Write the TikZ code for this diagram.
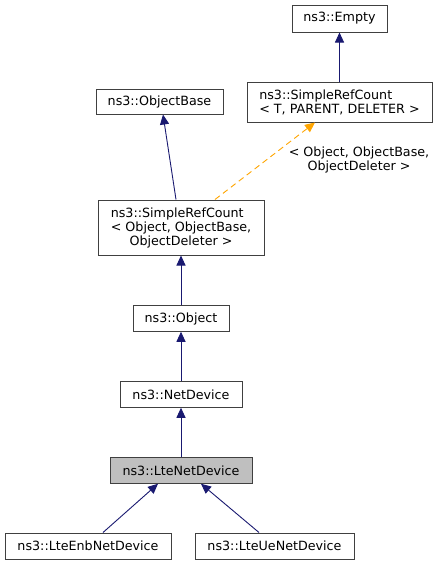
\documentclass[tikz,border=0pt]{standalone}
\usepackage{fontspec}
\setmainfont{DejaVu Sans}
\usetikzlibrary{arrows.meta}
\definecolor{edgeblue}{HTML}{191970}
\definecolor{boxline}{HTML}{404040}
\definecolor{tmplorange}{HTML}{FFA500}
\begin{document}
\begin{tikzpicture}[x=1pt,y=-1pt,
  cls/.style={draw=boxline,line width=1pt,fill=white,inner sep=0pt,align=center,
    font=\fontsize{12.7}{14}\selectfont},
  inh/.style={draw=edgeblue,line width=0.9pt,-{Triangle[length=10pt,width=9pt,fill=edgeblue]}},
  tmpl/.style={draw=tmplorange,line width=0.9pt,dashed,dash pattern=on 6pt off 4pt,-{Triangle[length=10pt,width=9pt,fill=tmplorange]}}]
\useasboundingbox (0,0) rectangle (438,565);
\node[cls,minimum width=95pt,minimum height=27pt] (empty) at (339.5,18.5) {ns3::Empty};
\node[cls,minimum width=185pt,minimum height=40pt] (srt) at (339.5,102) {\rlap{ns3::SimpleRefCount}\phantom{< T, PARENT, DELETER >}\\< T, PARENT, DELETER >};
\node[cls,minimum width=127pt,minimum height=25pt] (ob) at (159.5,101.5) {ns3::ObjectBase};
\node[cls,minimum width=166pt,minimum height=55pt] (sro) at (181,227.5) {\rlap{ns3::SimpleRefCount}\phantom{< Object, ObjectBase,}\\< Object, ObjectBase,\\ObjectDeleter >};
\node[cls,minimum width=96pt,minimum height=25.5pt] (obj) at (181,318.5) {ns3::Object};
\node[cls,minimum width=122pt,minimum height=25.5pt] (nd) at (181,394.5) {ns3::NetDevice};
\node[cls,fill=black!25,minimum width=142pt,minimum height=25.5pt] (lte) at (181,470.5) {ns3::LteNetDevice};
\node[cls,minimum width=166pt,minimum height=26pt] (enb) at (88,546) {ns3::LteEnbNetDevice};
\node[cls,minimum width=159pt,minimum height=26pt] (ue) at (274.5,546) {ns3::LteUeNetDevice};
\node[align=center,inner sep=0pt,font=\fontsize{12.7}{14}\selectfont] (lbl) at (359,160) {< Object, ObjectBase,\\ObjectDeleter >};
\draw[inh] (srt.north) -- (empty.south);
\draw[inh] ([xshift=-5pt]sro.north) -- ([xshift=3.5pt]ob.south);
\draw[tmpl] ([xshift=34pt]sro.north) -- ([xshift=-24.5pt]srt.south);
\draw[inh] (obj.north) -- (sro.south);
\draw[inh] (nd.north) -- (obj.south);
\draw[inh] (lte.north) -- (nd.south);
\draw[inh] ([xshift=15pt]enb.north) -- ([xshift=-23pt]lte.south);
\draw[inh] ([xshift=-15.5pt]ue.north) -- ([xshift=20pt]lte.south);
\end{tikzpicture}
\end{document}
